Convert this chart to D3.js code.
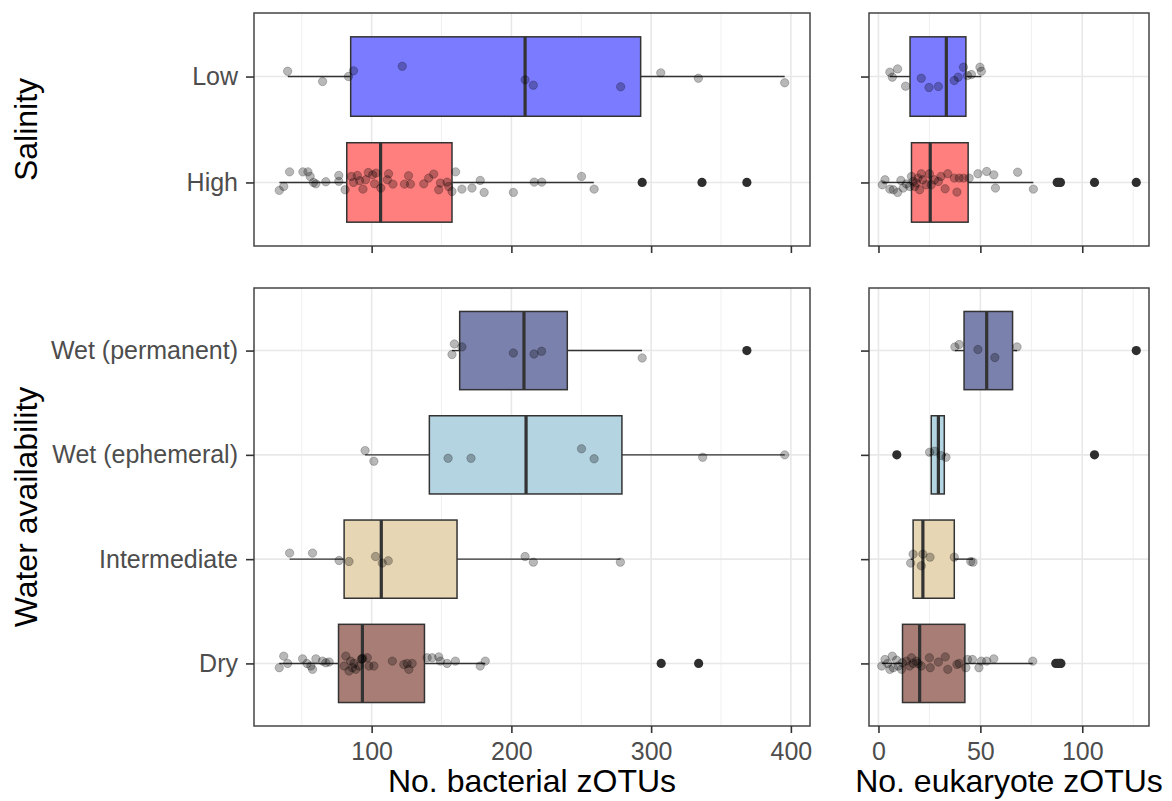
<!DOCTYPE html>
<html>
<head>
<meta charset="utf-8">
<script src="https://cdn.jsdelivr.net/npm/d3@7"></script>
<style>
  body { margin: 0; background: #fff; }
</style>
</head>
<body>
<div id="chart"></div>
<script>
// --------------------------------------------------
// zOTU richness by salinity and water availability

var salinityCats = ["Low", "High"];
var waterCats = ["Wet (permanent)", "Wet (ephemeral)", "Intermediate", "Dry"];

var bacTicks = [100, 200, 300, 400];
var bacMinor = [50, 150, 250, 350];
var eukTicks = [0, 50, 100];
var eukMinor = [25, 75, 125];

// box stats: [lower whisker, q1, median, q3, upper whisker]
var bacSalinityBox = [[40, 85, 209.8, 292.5, 395.6], [34, 82.2, 106.4, 157.5, 259]];
var eukSalinityBox = [[5.6, 15.5, 33.3, 42.9, 50.5], [1.9, 16.2, 25.4, 44.0, 76]];
var bacWaterBox = [[157.5, 163, 209, 240, 293.5], [95.3, 141.3, 210.5, 279.1, 395.6],
                   [41.3, 80.3, 106.9, 161.1, 278], [33.9, 76.3, 93.4, 137.8, 181.3]];
var eukWaterBox = [[37.5, 42.0, 53.1, 65.8, 68], [25.1, 25.9, 29.4, 32.3, 33.1],
                   [15.8, 17.0, 21.8, 37.2, 46.4], [1.6, 11.8, 20.2, 42.4, 75.7]];

// outliers per category
var bacSalinityOut = [[], [293.6, 336.4, 368.5]];
var eukSalinityOut = [[], [87.7, 88.5, 89.3, 106, 126.5]];
var bacWaterOut = [[368.5], [], [], [307.2, 334]];
var eukWaterOut = [[126.5], [9.0, 106], [], [87, 88, 89, 89.5]];

// jittered samples: [value, vertical jitter in category steps]
var bacLowPts = [[39.9, -0.05], [64.9, 0.047], [83.4, 0], [87, -0.054], [121.9, -0.097],
  [209.8, 0.031], [215.7, 0.082], [278.2, 0.097], [306.9, -0.035], [333.8, 0.016], [395.6, 0.059]];
var bacHighPts = [[33.9, 0.075], [37.1, 0.038], [41.3, -0.1], [50.8, -0.1], [54.4, -0.1],
  [56.0, -0.057], [58.4, 0], [60.1, 0.013], [67.2, -0.006], [76.5, -0.066], [76.5, -0.01],
  [81, 0.069], [85.5, -0.057], [87, 0], [89.8, -0.066], [91.4, -0.016], [93.8, 0.063],
  [95.7, -0.025], [97.6, -0.094], [100.7, -0.072], [102.1, 0.013], [103.1, -0.088],
  [106.6, 0.053], [111.2, -0.025], [112.1, -0.082], [115.2, 0.016], [123.5, 0.016],
  [126.4, -0.063], [127.8, 0.016], [137.3, 0.013], [140.8, -0.041], [144.4, -0.079],
  [148, 0.069], [149.2, 0.006], [154, -0.003], [155.1, 0.038], [157.5, 0.085], [160.1, -0.1],
  [164.6, 0.063], [171.8, 0.053], [177.7, -0.019], [180.5, 0.094], [201.4, 0.094],
  [216.4, -0.003], [221.7, -0.003], [250.2, -0.057], [259.2, 0.063]];
var eukLowPts = [[5.6, -0.041], [6.8, 0.006], [9.4, -0.072], [13.3, 0.091], [21.0, 0.016],
  [24.8, 0.104], [29.4, 0.094], [37.2, 0.038], [39.1, 0.006], [41.7, -0.088], [43.7, -0.009],
  [45.6, -0.019], [49.8, -0.088], [50.5, -0.05]];
var eukHighPts = [[1.9, 0.022], [3.2, -0.025], [5.6, 0.063], [7.3, 0.069], [9.4, 0.094],
  [11.0, -0.019], [12.1, 0.053], [13.7, 0.013], [15.3, 0.038], [16.2, -0.057], [17.0, -0.009],
  [17.8, 0.038], [18.6, 0.006], [19.4, -0.041], [20.2, 0.069], [21.0, -0.082], [21.8, -0.025],
  [23.4, 0.022], [25.0, -0.082], [25.9, 0.022], [27.5, -0.025], [29.4, -0.009], [30.7, -0.057],
  [32.7, 0.06], [34.0, -0.082], [37.2, -0.041], [38.5, 0.091], [39.6, -0.041], [41.7, -0.041],
  [44.5, -0.041], [48.8, -0.082], [53.1, -0.104], [56.6, -0.072], [57.4, 0.053], [68.3, -0.097],
  [76.0, 0.063]];

var bacWetPermPts = [[159.2, -0.063], [157.5, 0.038], [164.6, -0.035], [201.4, 0.023],
  [216.2, 0.033], [221.6, 0.007], [293.6, 0.071]];
var bacWetEphPts = [[95.3, -0.041], [101.6, 0.061], [154.7, 0.033], [171.1, 0.033],
  [250.2, -0.058], [259.2, 0.038], [336.9, 0.023], [395.6, 0]];
var bacInterPts = [[41.3, -0.058], [57.7, -0.058], [76.7, 0.013], [83.8, 0.023],
  [102.8, -0.025], [107.6, 0.038], [111.9, 0.016], [209.8, -0.025], [215.7, 0.029], [278, 0.029]];
var bacDryPts = [[33.9, 0.041], [37.1, -0.07], [39.9, 0], [50.6, -0.044], [53.7, 0],
  [56.5, 0.025], [57.7, 0.057], [60.1, -0.044], [64.9, -0.022], [67.2, -0.006], [69.6, -0.013],
  [80.3, 0.025], [81.5, -0.07], [83.8, 0.073], [85.0, -0.022], [86.2, 0.041], [87.4, 0],
  [88.6, 0.057], [90.9, 0.025], [92.7, -0.044], [93.2, -0.04], [93.6, -0.05], [96.9, -0.054],
  [98.1, 0.025], [101.6, 0.025], [114.8, -0.022], [123.0, 0.01], [125.4, 0], [126.6, 0.057],
  [129.0, 0], [139.7, -0.054], [143.3, -0.054], [148.0, -0.063], [149.2, -0.022], [154.0, 0],
  [159.9, -0.022], [177.7, 0.025], [181.3, -0.022]];

var eukWetPermPts = [[37.5, -0.035], [39.6, -0.058], [48.8, -0.01], [57.1, 0.067], [68, -0.035]];
var eukWetEphPts = [[25.1, -0.025], [27.5, -0.035], [30.7, 0.007], [33.1, 0.023]];
var eukInterPts = [[15.8, 0.038], [17.0, -0.048], [21.0, 0.064], [21.8, -0.048], [25.3, -0.019],
  [37.2, -0.019], [45.3, 0.023], [46.4, 0.029]];
var eukDryPts = [[1.6, 0.025], [3.2, -0.038], [4.5, 0], [5.6, 0.057], [6.8, -0.07], [7.3, 0.041],
  [8.9, -0.032], [9.7, 0.025], [11.3, 0.057], [11.7, -0.006], [13.7, -0.022], [15.3, 0.025],
  [16.2, -0.054], [17.0, 0], [18.6, -0.022], [19.4, 0], [21.0, 0.025], [25.0, -0.054],
  [25.4, 0.041], [29.4, -0.013], [32.8, -0.063], [34.0, 0.057], [38.5, 0.01], [39.6, 0],
  [42.9, 0.041], [43.7, -0.038], [46.1, -0.038], [49.3, 0.041], [50.5, -0.022], [53.1, -0.022],
  [56.6, -0.044], [75.7, -0.022]];

var salinityFills = ["#7b7bff", "#ff7f7f"];
var waterFills = ["#7a81ad", "#b4d4e2", "#e7d6b4", "#a87d75"];

var width = 1172, height = 801;
var cols = { left: [254, 810], right: [869, 1149] };
var rows = { top: [13, 246], bottom: [288, 726] };

var svg = d3.select("#chart")
    .append("svg")
    .attr("width", width)
    .attr("height", height)
    .style("font-family", "'Liberation Sans', Arial, sans-serif");

// ggplot-like 5% expansion of the continuous axis
function expand(vals) {
    var e = d3.extent(vals);
    var pad = (e[1] - e[0]) * 0.05;
    return [e[0] - pad, e[1] + pad];
}

function allValues(boxes, outs, ptsList) {
    var v = [];
    boxes.forEach(function(b) { v.push(b[0], b[4]); });
    outs.forEach(function(o) { v = v.concat(o); });
    ptsList.forEach(function(p) { p.forEach(function(d) { v.push(d[0]); }); });
    return v;
}

var bacVals = allValues(bacSalinityBox.concat(bacWaterBox), bacSalinityOut.concat(bacWaterOut),
    [bacLowPts, bacHighPts, bacWetPermPts, bacWetEphPts, bacInterPts, bacDryPts]);
var eukVals = allValues(eukSalinityBox.concat(eukWaterBox), eukSalinityOut.concat(eukWaterOut),
    [eukLowPts, eukHighPts, eukWetPermPts, eukWetEphPts, eukInterPts, eukDryPts]);

var xBac = d3.scaleLinear().domain(expand(bacVals)).range(cols.left);
var xEuk = d3.scaleLinear().domain(expand(eukVals)).range(cols.right);

function drawPanel(x, row, cats, boxes, outs, pts, fills, ticks, minor, yLabels, xLabels) {
    var y = d3.scalePoint().domain(cats).range(row).padding(0.6);
    var step = y.step();
    var range = x.range();
    var g = svg.append("g");

    g.append("rect")
        .attr("x", range[0]).attr("y", row[0])
        .attr("width", range[1] - range[0]).attr("height", row[1] - row[0])
        .attr("fill", "#fff");

    // grid
    g.selectAll(".minor").data(minor).enter().append("line")
        .attr("x1", function(d) { return x(d); }).attr("x2", function(d) { return x(d); })
        .attr("y1", row[0]).attr("y2", row[1])
        .attr("stroke", "#f0f0f0").attr("stroke-width", 1);
    g.selectAll(".major").data(ticks).enter().append("line")
        .attr("x1", function(d) { return x(d); }).attr("x2", function(d) { return x(d); })
        .attr("y1", row[0]).attr("y2", row[1])
        .attr("stroke", "#e8e8e8").attr("stroke-width", 1.6);
    g.selectAll(".hgrid").data(cats).enter().append("line")
        .attr("x1", range[0]).attr("x2", range[1])
        .attr("y1", function(d) { return y(d); }).attr("y2", function(d) { return y(d); })
        .attr("stroke", "#e8e8e8").attr("stroke-width", 1.6);

    // boxes
    boxes.forEach(function(b, i) {
        var cy = y(cats[i]);
        var half = step * 0.375;
        var bg = g.append("g");
        bg.append("line")
            .attr("x1", x(b[0])).attr("x2", x(b[1])).attr("y1", cy).attr("y2", cy)
            .attr("stroke", "#333").attr("stroke-width", 1.4);
        bg.append("line")
            .attr("x1", x(b[3])).attr("x2", x(b[4])).attr("y1", cy).attr("y2", cy)
            .attr("stroke", "#333").attr("stroke-width", 1.4);
        bg.append("rect")
            .attr("x", x(b[1])).attr("y", cy - half)
            .attr("width", x(b[3]) - x(b[1])).attr("height", half * 2)
            .attr("fill", fills[i]).attr("stroke", "#333").attr("stroke-width", 1.5);
        bg.append("line")
            .attr("x1", x(b[2])).attr("x2", x(b[2])).attr("y1", cy - half).attr("y2", cy + half)
            .attr("stroke", "#333").attr("stroke-width", 3.2);

        g.selectAll(null).data(outs[i]).enter().append("circle")
            .attr("cx", function(d) { return x(d); })
            .attr("cy", cy)
            .attr("r", 4.6)
            .attr("fill", "#2e2e2e");

        g.selectAll(null).data(pts[i]).enter().append("circle")
            .attr("cx", function(d) { return x(d[0]); })
            .attr("cy", function(d) { return cy + d[1] * step; })
            .attr("r", 4.2)
            .attr("fill", "rgba(0,0,0,0.28)")
            .attr("stroke", "rgba(0,0,0,0.22)")
            .attr("stroke-width", 1);
    });

    // panel border
    g.append("rect")
        .attr("x", range[0]).attr("y", row[0])
        .attr("width", range[1] - range[0]).attr("height", row[1] - row[0])
        .attr("fill", "none").attr("stroke", "#444").attr("stroke-width", 1.5);

    // y axis
    var yAxis = g.append("g")
        .attr("transform", "translate(" + range[0] + ",0)")
        .call(d3.axisLeft(y).tickSize(8).tickPadding(8)
            .tickFormat(function(d) { return yLabels ? d : ""; }));
    // x axis
    var xAxis = g.append("g")
        .attr("transform", "translate(0," + row[1] + ")")
        .call(d3.axisBottom(x).tickValues(ticks).tickSize(7).tickPadding(9)
            .tickFormat(function(d) { return xLabels ? d : ""; }));

    [yAxis, xAxis].forEach(function(a) {
        a.select(".domain").remove();
        a.selectAll("line").attr("stroke", "#333").attr("stroke-width", 1.6);
        a.selectAll("text").attr("fill", "#4d4d4d").attr("font-size", "25px")
            .style("font-family", "'Liberation Sans', Arial, sans-serif");
    });
}

drawPanel(xBac, rows.top, salinityCats, bacSalinityBox, bacSalinityOut,
    [bacLowPts, bacHighPts], salinityFills, bacTicks, bacMinor, true, false);
drawPanel(xEuk, rows.top, salinityCats, eukSalinityBox, eukSalinityOut,
    [eukLowPts, eukHighPts], salinityFills, eukTicks, eukMinor, false, false);
drawPanel(xBac, rows.bottom, waterCats, bacWaterBox, bacWaterOut,
    [bacWetPermPts, bacWetEphPts, bacInterPts, bacDryPts], waterFills, bacTicks, bacMinor, true, true);
drawPanel(xEuk, rows.bottom, waterCats, eukWaterBox, eukWaterOut,
    [eukWetPermPts, eukWetEphPts, eukInterPts, eukDryPts], waterFills, eukTicks, eukMinor, false, true);

// axis titles
svg.append("text")
    .attr("x", (cols.left[0] + cols.left[1]) / 2)
    .attr("y", 792)
    .attr("font-size", "32px")
    .attr("text-anchor", "middle")
    .text("No. bacterial zOTUs");

svg.append("text")
    .attr("x", (cols.right[0] + cols.right[1]) / 2)
    .attr("y", 792)
    .attr("font-size", "32px")
    .attr("text-anchor", "middle")
    .text("No. eukaryote zOTUs");

svg.append("text")
    .attr("transform", "translate(37," + (rows.top[0] + rows.top[1]) / 2 + ") rotate(-90)")
    .attr("font-size", "32px")
    .attr("text-anchor", "middle")
    .text("Salinity");

svg.append("text")
    .attr("transform", "translate(37," + (rows.bottom[0] + rows.bottom[1]) / 2 + ") rotate(-90)")
    .attr("font-size", "32px")
    .attr("text-anchor", "middle")
    .text("Water availability");
</script>
</body>
</html>
